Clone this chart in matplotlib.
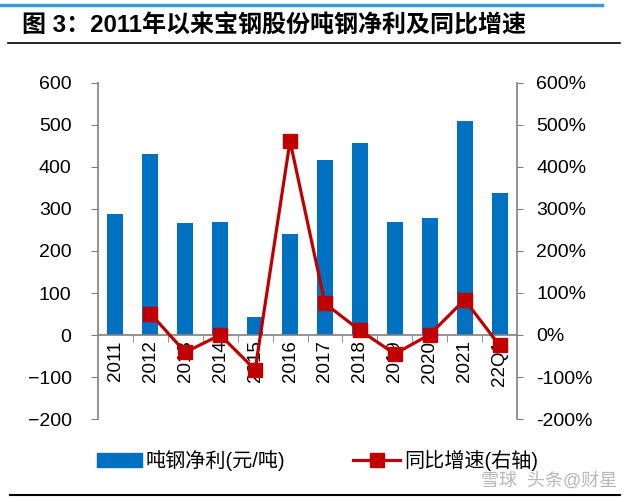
import matplotlib
matplotlib.use("Agg")
import matplotlib.pyplot as plt
from matplotlib.lines import Line2D
from matplotlib.patches import Patch
from matplotlib.ticker import FuncFormatter

plt.rcParams['font.family'] = ['Liberation Sans', 'Noto Sans CJK SC']

years = ["2011", "2012", "2013", "2014", "2015", "2016",
         "2017", "2018", "2019", "2020", "2021", "22Q1"]
profit = [287, 431, 266, 268, 44, 241, 417, 457, 268, 278, 510, 337]
growth = [None, 51, -41, 0, -83, 462, 75, 11, -45, 1, 84, -25]

title = "图 3：2011年以来宝钢股份吨钢净利及同比增速"
bar_label = "吨钢净利(元/吨)"
line_label = "同比增速(右轴)"

blue = "#0070C0"
red = "#C00000"
grey = "#808080"

fig = plt.figure(figsize=(6.4, 5), dpi=100)
ax = fig.add_axes([98 / 640, 1 - 419 / 500, (517 - 98) / 640, (419 - 83) / 500])
ax2 = ax.twinx()

x = list(range(len(years)))
ax.bar(x, profit, width=0.46, color=blue, zorder=2)
ax.set_ylim(-200, 600)
ax.set_xlim(-0.5, len(years) - 0.5)
ax.set_yticks(range(-200, 601, 100))

gx = [i for i, g in enumerate(growth) if g is not None]
gy = [g for g in growth if g is not None]
ax2.plot(gx, gy, color=red, lw=2.3, marker="s", markersize=10, zorder=5)
ax2.set_ylim(-200, 600)
ax2.set_yticks(range(-200, 601, 100))
ax2.yaxis.set_major_formatter(FuncFormatter(lambda v, p: f"{int(v)}%"))

for a in (ax, ax2):
    a.spines['top'].set_visible(False)
    for s in a.spines.values():
        s.set_color(grey)
        s.set_linewidth(1.2)
ax2.spines['bottom'].set_visible(False)
ax2.spines['left'].set_visible(False)
ax.spines['right'].set_visible(False)
ax.spines['bottom'].set_position(('data', 0))

ax.set_xticks(x)
ax.set_xticklabels(years, rotation=90, fontsize=13.5)
ax.set_xticks([i + 0.5 for i in x[:-1]], minor=True)
ax.tick_params(axis='x', which='major', length=0, pad=4)
ax.tick_params(axis='x', which='minor', length=5, color=grey, direction='out')
ax.tick_params(axis='y', labelsize=14, length=5, color=grey, pad=14)
ax2.tick_params(axis='y', labelsize=14, length=4, color=grey, pad=10)

fig.text(22 / 640, 1 - 26 / 500, title, fontsize=17.3, fontweight='bold',
         va='center', ha='left')
fig.add_artist(Line2D([0, 602 / 640], [1 - 5 / 500] * 2, color="#3A9AD9", lw=2.5,
                      transform=fig.transFigure))
fig.add_artist(Line2D([8 / 640, 620 / 640], [1 - 43 / 500] * 2, color="black", lw=1.2,
                      transform=fig.transFigure))
fig.add_artist(Line2D([10 / 640, 620 / 640], [1 - 495 / 500] * 2, color="black", lw=1.5,
                      transform=fig.transFigure))

leg1 = fig.legend([Patch(color=blue)], [bar_label], loc='center left',
                  bbox_to_anchor=(97 / 640, 1 - 461 / 500), frameon=False,
                  fontsize=14.5, handlelength=2.25, handletextpad=0.15,
                  borderpad=0, borderaxespad=0)
leg2 = fig.legend([Line2D([], [], color=red, lw=2.3, marker="s", markersize=10)],
                  [line_label], loc='center left',
                  bbox_to_anchor=(353 / 640, 1 - 461 / 500), frameon=False,
                  fontsize=14.5, handlelength=2.35, handletextpad=0.2,
                  borderpad=0, borderaxespad=0)

fig.text(617 / 640, 1 - 481 / 500, "雪球  头条@财星", fontsize=13, color="#b8b8b8",
         ha='right', va='center')

fig.savefig("out.png", dpi=100)
